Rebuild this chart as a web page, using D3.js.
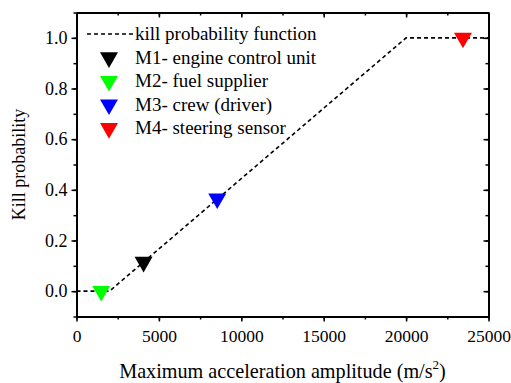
<!DOCTYPE html>
<html><head><meta charset="utf-8">
<script src="https://cdn.jsdelivr.net/npm/d3@7"></script>
<style>body{margin:0;background:#fff}svg{display:block}svg text{font-family:"Liberation Serif","Times New Roman",serif !important;fill:#000}</style>
</head><body><svg id="c" width="511" height="383"></svg>
<script>
const curveX = [0, 2000, 20000, 25000];
const curveY = [0, 0, 1, 1];
const markerNames = ["M1- engine control unit","M2- fuel supplier","M3- crew (driver)","M4- steering sensor"];
const markerX = [4070, 1500, 8540, 23450];
const markerY = [0.115, 0, 0.365, 1.0];
const markerColors = ["#000000","#00ff00","#0000ff","#ff0000"];
const xTicks = [0,5000,10000,15000,20000,25000];
const yTicks = [0,0.2,0.4,0.6,0.8,1.0];
const lineLabel = "kill probability function";

const svg = d3.select("#c");
const L=76.5,R=488.5,T=12.5,B=316.5;
const x = d3.scaleLinear().domain([0,25000]).range([L,R]);
const y = d3.scaleLinear().domain([-0.1,1.1]).range([B,T]);

const fmtY = d3.format(".1f");
function axisStyle(g){g.attr("font-family",null);g.select(".domain").attr("stroke","#000").attr("stroke-width",2);g.selectAll(".tick line").attr("stroke","#000").attr("stroke-width",1.5);}
const minorX = d3.range(0,25001,2500), minorY = d3.range(-0.1,1.1001,0.1);

function minor(axisFn, scale, vals, tr, len){
  svg.append("g").attr("transform",tr).call(axisFn(scale).tickValues(vals).tickSize(len).tickFormat("")).call(g=>{g.select(".domain").remove();g.selectAll(".tick line").attr("stroke","#000").attr("stroke-width",1.5);});
}
minor(d3.axisBottom,x,minorX,`translate(0,${B})`,3);
minor(d3.axisTop,x,minorX,`translate(0,${T})`,-3);
minor(d3.axisLeft,y,minorY,`translate(${L},0)`,3);
minor(d3.axisRight,y,minorY,`translate(${R},0)`,-3);

svg.append("g").attr("transform",`translate(0,${B})`).call(d3.axisBottom(x).tickValues(xTicks).tickSize(5).tickSizeOuter(0).tickPadding(7).tickFormat(d3.format("d"))).call(axisStyle).call(g=>g.selectAll("text").attr("font-size",17.5).attr("dy","0.75em"));
svg.append("g").attr("transform",`translate(0,${T})`).call(d3.axisTop(x).tickValues(xTicks).tickSize(-5).tickSizeOuter(0).tickFormat("")).call(axisStyle);
svg.append("g").attr("transform",`translate(${L},0)`).call(d3.axisLeft(y).tickValues(yTicks).tickSize(5).tickSizeOuter(0).tickPadding(4).tickFormat(fmtY)).call(axisStyle).call(g=>g.selectAll("text").attr("font-size",18));
svg.append("g").attr("transform",`translate(${R},0)`).call(d3.axisRight(y).tickValues(yTicks).tickSize(-5).tickSizeOuter(0).tickFormat("")).call(axisStyle);

const pts = curveX.map((v,i)=>[v,curveY[i]]);
svg.append("path").datum(pts).attr("fill","none").attr("stroke","#000").attr("stroke-width",1.6).attr("stroke-dasharray","4,3")
  .attr("d",d3.line().x(d=>x(d[0])).y(d=>y(d[1])));

const tri = d3.symbol().type(d3.symbolTriangle).size(140);
svg.selectAll(".mk").data(markerX).enter().append("path")
  .attr("d",tri).attr("fill",(d,i)=>markerColors[i])
  .attr("transform",(d,i)=>`translate(${x(d)},${y(markerY[i])}) rotate(180)`);

const lg = svg.append("g");
lg.append("line").attr("x1",87).attr("x2",133).attr("y1",34).attr("y2",34).attr("stroke","#000").attr("stroke-width",1.6).attr("stroke-dasharray","4,3");
lg.append("text").attr("x",135).attr("y",40).attr("font-size",19).text(lineLabel);
markerNames.forEach((n,i)=>{
  const yy = 57.5+i*23.6;
  lg.append("path").attr("d",tri).attr("fill",markerColors[i]).attr("transform",`translate(109,${yy}) rotate(180)`);
  lg.append("text").attr("x",135).attr("y",yy+6).attr("font-size",19).text(n);
});

svg.append("text").attr("transform",`translate(25,${(T+B)/2}) rotate(-90)`).attr("text-anchor","middle").attr("font-size",18).text("Kill probability");
const xt = svg.append("text").attr("x",(L+R)/2).attr("y",378).attr("text-anchor","middle").attr("font-size",20.2);
xt.append("tspan").text("Maximum acceleration amplitude (m/s");
xt.append("tspan").attr("dy",-9).attr("font-size",13).text("2");
xt.append("tspan").attr("dy",9).text(")");
</script></body></html>
